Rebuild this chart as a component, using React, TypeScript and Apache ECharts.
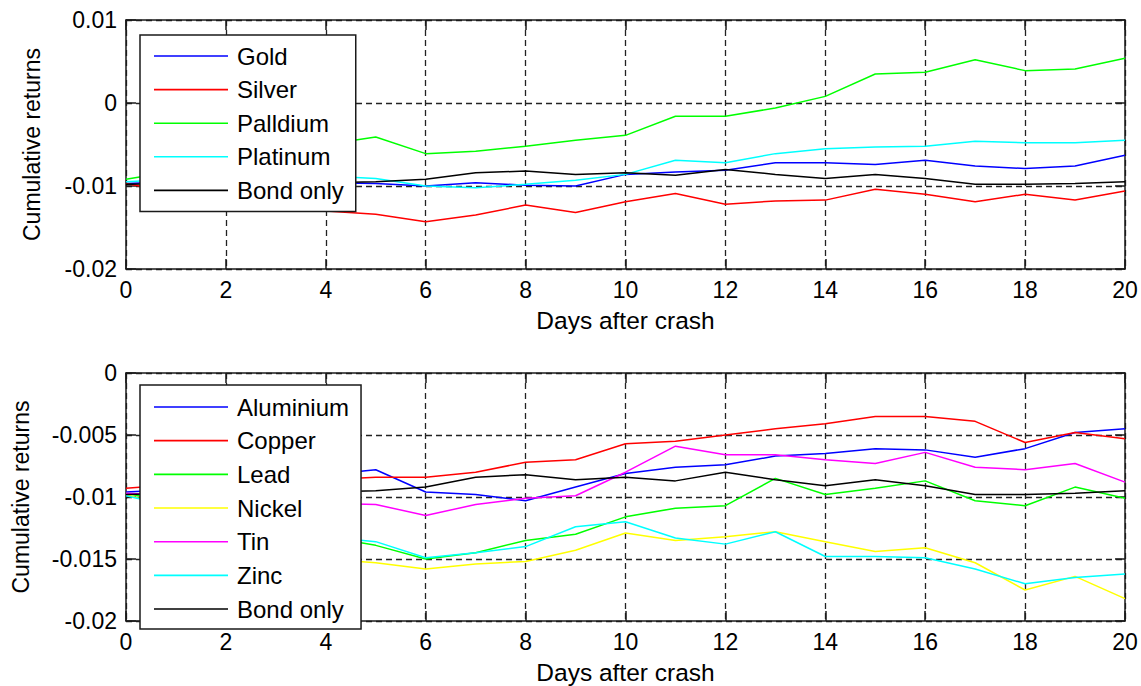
import React, { useEffect, useRef } from "react";
import * as echarts from "echarts";

const days = [0, 1, 2, 3, 4, 5, 6, 7, 8, 9, 10, 11, 12, 13, 14, 15, 16, 17, 18, 19, 20];

const gold = [-0.0097, -0.0095, -0.0094, -0.0095, -0.0096, -0.0097, -0.0100, -0.0096, -0.0099, -0.0100, -0.0086, -0.0083, -0.0081, -0.0072, -0.0072, -0.0074, -0.0069, -0.0076, -0.0079, -0.0076, -0.0063];
const silver = [-0.0097, -0.0108, -0.0118, -0.0124, -0.0130, -0.0134, -0.0143, -0.0135, -0.0123, -0.0132, -0.0119, -0.0109, -0.0122, -0.0118, -0.0117, -0.0104, -0.0110, -0.0119, -0.0110, -0.0117, -0.0106];
const palldium = [-0.0092, -0.0082, -0.0072, -0.0060, -0.0050, -0.0041, -0.0061, -0.0058, -0.0052, -0.0045, -0.0039, -0.0016, -0.0016, -0.0006, 0.0008, 0.0035, 0.0037, 0.0052, 0.0039, 0.0041, 0.0054];
const platinum = [-0.0095, -0.0092, -0.0090, -0.0089, -0.0088, -0.0091, -0.0100, -0.0102, -0.0098, -0.0093, -0.0086, -0.0069, -0.0072, -0.0061, -0.0055, -0.0053, -0.0052, -0.0046, -0.0048, -0.0048, -0.0045];
const bondOnly = [-0.0098, -0.0097, -0.0097, -0.0096, -0.0096, -0.0095, -0.0092, -0.0084, -0.0082, -0.0086, -0.0084, -0.0087, -0.0080, -0.0086, -0.0091, -0.0086, -0.0091, -0.0098, -0.0098, -0.0097, -0.0095];

const aluminium = [-0.0096, -0.0094, -0.0090, -0.0086, -0.0082, -0.0078, -0.0096, -0.0098, -0.0103, -0.0092, -0.0081, -0.0076, -0.0074, -0.0067, -0.0065, -0.0061, -0.0062, -0.0068, -0.0061, -0.0048, -0.0045];
const copper = [-0.0093, -0.0090, -0.0088, -0.0087, -0.0086, -0.0084, -0.0084, -0.0080, -0.0072, -0.0070, -0.0057, -0.0055, -0.0050, -0.0045, -0.0041, -0.0035, -0.0035, -0.0039, -0.0056, -0.0048, -0.0053];
const lead = [-0.0097, -0.0105, -0.0115, -0.0124, -0.0132, -0.0139, -0.0150, -0.0145, -0.0135, -0.0130, -0.0116, -0.0109, -0.0107, -0.0085, -0.0098, -0.0093, -0.0087, -0.0103, -0.0107, -0.0092, -0.0101];
const nickel = [-0.0098, -0.0110, -0.0125, -0.0138, -0.0150, -0.0153, -0.0158, -0.0154, -0.0152, -0.0143, -0.0129, -0.0135, -0.0132, -0.0128, -0.0136, -0.0144, -0.0141, -0.0153, -0.0175, -0.0164, -0.0182];
const tin = [-0.0097, -0.0099, -0.0101, -0.0103, -0.0105, -0.0106, -0.0115, -0.0106, -0.0101, -0.0099, -0.0080, -0.0059, -0.0066, -0.0066, -0.0070, -0.0073, -0.0064, -0.0076, -0.0078, -0.0073, -0.0088];
const zinc = [-0.0099, -0.0108, -0.0117, -0.0125, -0.0132, -0.0136, -0.0149, -0.0145, -0.0140, -0.0124, -0.0120, -0.0133, -0.0138, -0.0128, -0.0148, -0.0148, -0.0149, -0.0158, -0.0170, -0.0165, -0.0162];

const topNames = ["Gold", "Silver", "Palldium", "Platinum", "Bond only"];
const topData = [gold, silver, palldium, platinum, bondOnly];
const topColors = ["#0000ff", "#ff0000", "#00ff00", "#00ffff", "#000000"];

const bottomNames = ["Aluminium", "Copper", "Lead", "Nickel", "Tin", "Zinc", "Bond only"];
const bottomData = [aluminium, copper, lead, nickel, tin, zinc, bondOnly];
const bottomColors = ["#0000ff", "#ff0000", "#00ff00", "#ffff00", "#ff00ff", "#00ffff", "#000000"];

const FONT = "'Liberation Sans', Arial, sans-serif";
const FS = 23;
const NAME_FS = 24.5;
const AXIS_COLOR = "#1a1a1a";

function fmt(v: number) {
  return String(parseFloat(Number(v).toFixed(4)));
}

function makeAxes(gridIndex: number, yMin: number, yMax: number, yInterval: number, yNameGap: number) {
  const lineStyle = { color: AXIS_COLOR, width: 1.5 };
  const axisLine = { show: true, onZero: false, lineStyle };
  const tick = { show: true, inside: true, length: 10, lineStyle };
  const split = { show: true, lineStyle: { color: "#222", width: 1.3, type: [6, 4] as any } };
  const xAxes = [
    {
      type: "value", gridIndex, min: 0, max: 20, interval: 2, position: "bottom",
      axisLine, axisTick: tick, splitLine: split,
      axisLabel: { color: "#000", fontSize: FS, fontFamily: FONT, margin: 9 },
      name: "Days after crash", nameLocation: "middle", nameGap: 39,
      nameTextStyle: { color: "#000", fontSize: NAME_FS, fontFamily: FONT },
    },
    {
      type: "value", gridIndex, min: 0, max: 20, interval: 2, position: "top",
      axisLine, axisTick: tick, splitLine: { show: false },
      axisLabel: { show: false },
    },
  ];
  const yAxes = [
    {
      type: "value", gridIndex, min: yMin, max: yMax, interval: yInterval, position: "left",
      axisLine, axisTick: tick, splitLine: split,
      axisLabel: { color: "#000", fontSize: FS, fontFamily: FONT, margin: 9, formatter: fmt },
      name: "Cumulative returns", nameLocation: "middle", nameGap: yNameGap,
      nameTextStyle: { color: "#000", fontSize: FS, fontFamily: FONT },
    },
    {
      type: "value", gridIndex, min: yMin, max: yMax, interval: yInterval, position: "right",
      axisLine, axisTick: tick, splitLine: { show: false },
      axisLabel: { show: false },
    },
  ];
  return { xAxes, yAxes };
}

function makeSeries(names: string[], data: number[][], colors: string[], axisIndex: number) {
  return names.map((name, i) => ({
    type: "line",
    name,
    xAxisIndex: axisIndex,
    yAxisIndex: axisIndex,
    data: days.map((d, j) => [d, data[i][j]]),
    symbol: "none",
    color: colors[i],
    lineStyle: { color: colors[i], width: 1.5 },
    z: 3,
  }));
}

export default function App() {
  const ref = useRef<HTMLDivElement>(null);
  useEffect(() => {
    if (!ref.current) return;
    const chart = echarts.init(ref.current, undefined, { renderer: "svg" });
    const a = makeAxes(0, -0.02, 0.01, 0.01, 83);
    const b = makeAxes(1, -0.02, 0, 0.005, 94);
    const legendCommon = {
      orient: "vertical",
      backgroundColor: "#fff",
      borderColor: "#1a1a1a",
      borderWidth: 1.5,
      icon: "rect",
      itemWidth: 74,
      itemHeight: 1.6,
      selectedMode: false,
      textStyle: { color: "#000", fontSize: 24, fontFamily: FONT, lineHeight: 24, padding: [0, 0, 0, 4] },
    };
    chart.setOption({
      animation: false,
      backgroundColor: "#fff",
      grid: [
        { left: 126, top: 20, width: 999, height: 249 },
        { left: 126, top: 373, width: 999, height: 248 },
      ],
      xAxis: [a.xAxes[0], a.xAxes[1], b.xAxes[0], b.xAxes[1]],
      yAxis: [a.yAxes[0], a.yAxes[1], b.yAxes[0], b.yAxes[1]],
      legend: [
        { ...legendCommon, left: 140, top: 35, padding: [9, 12, 9, 14], itemGap: 9.6, data: topNames },
        { ...legendCommon, left: 140, top: 385, padding: [10, 12, 8, 14], itemGap: 9.67, data: bottomNames },
      ],
      series: [
        ...makeSeries(topNames, topData, topColors, 0),
        ...makeSeries(bottomNames, bottomData, bottomColors, 2),
      ],
    });
    return () => chart.dispose();
  }, []);
  return <div ref={ref} style={{ position: "absolute", left: 0, top: 0, width: 1141, height: 686 }} />;
}
